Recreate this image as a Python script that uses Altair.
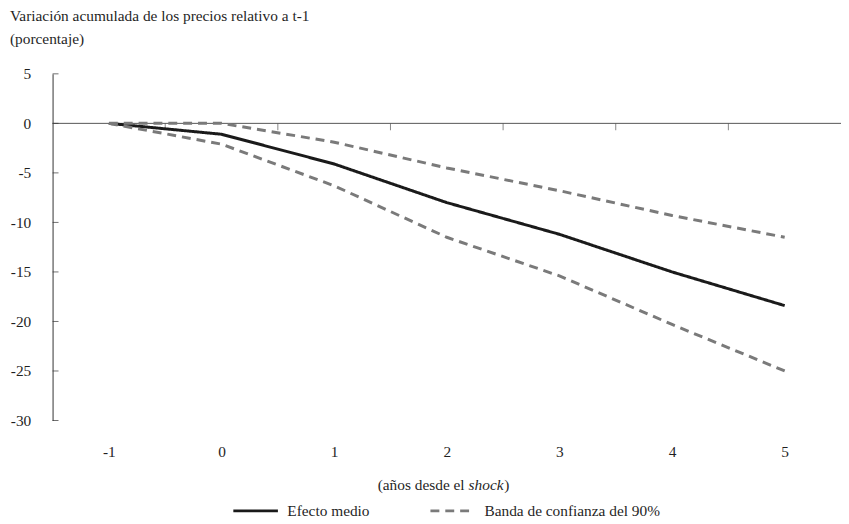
import altair as alt
import pandas as pd

# ---- data ----
anios = [-1, 0, 1, 2, 3, 4, 5]
efecto_medio = [0, -1.1, -4.1, -8.0, -11.2, -15.0, -18.4]
banda_superior = [0, 0, -1.9, -4.5, -6.8, -9.3, -11.5]
banda_inferior = [0, -2.1, -6.3, -11.5, -15.4, -20.3, -25.0]
y_ticks = [5, 0, -5, -10, -15, -20, -25, -30]
x_limites = [-0.5, 0.5, 1.5, 2.5, 3.5, 4.5]
serie_medio = "Efecto medio"
serie_banda = "Banda de confianza del 90%"
titulo = ["Variación acumulada de los precios relativo a t-1", "(porcentaje)"]
eje_x_partes = ["(años desde el", "shock", ")"]

rows = []
for a, m, s, i in zip(anios, efecto_medio, banda_superior, banda_inferior):
    rows.append({"anio": a, "valor": m, "serie": serie_medio, "linea": "medio"})
    rows.append({"anio": a, "valor": s, "serie": serie_banda, "linea": "superior"})
    rows.append({"anio": a, "valor": i, "serie": serie_banda, "linea": "inferior"})
df = pd.DataFrame(rows)

FONT = "Liberation Serif"
FS = 15.5
TXT = "#1f1f1f"
W, H = 796, 350

xscale = alt.Scale(domain=[-1.5, 5.5], nice=False, zero=False)
yscale = alt.Scale(domain=[-30, 5], nice=False, zero=False)

leg = alt.Legend(
    title=None, orient="none", legendX=181, legendY=417, direction="horizontal",
    symbolType="stroke", symbolSize=2025, symbolStrokeWidth=3,
    labelFont=FONT, labelFontSize=FS, labelColor=TXT, labelOffset=8, labelLimit=400,
    columnPadding=54,
)
color = alt.Color("serie:N", scale=alt.Scale(domain=[serie_medio, serie_banda],
                                             range=["#1a1a1a", "#7a7a7a"]), legend=leg)
dash = alt.StrokeDash("serie:N", scale=alt.Scale(domain=[serie_medio, serie_banda],
                                                 range=[[1, 0], [9, 6]]), legend=leg)

label_expr = "'' + datum.value"
xenc = alt.X("anio:Q", scale=xscale,
             axis=alt.Axis(values=anios, title=None, domain=False, ticks=False, grid=False,
                           labelPadding=24, labelExpr=label_expr, labelFont=FONT,
                           labelFontSize=FS, labelColor=TXT))
yenc = alt.Y("valor:Q", scale=yscale,
             axis=alt.Axis(values=y_ticks, title=None, grid=False, ticks=False,
                           domainColor="#333333", domainWidth=1, labelPadding=22,
                           labelExpr=label_expr, labelFont=FONT, labelFontSize=FS,
                           labelColor=TXT))

base = alt.Chart(df).mark_line(strokeWidth=3).encode(
    x=xenc, y=yenc, color=color, strokeDash=dash, detail="linea:N")
medio = base.transform_filter(alt.datum.linea == "medio")
banda = base.transform_filter(alt.datum.linea != "medio")

cero = alt.Chart(pd.DataFrame({"v": [0]})).mark_rule(color="#555555", strokeWidth=1).encode(
    y=alt.Y("v:Q", scale=yscale))

ticks_x = alt.Chart(pd.DataFrame({"lim": x_limites, "v": [0] * len(x_limites)})).mark_tick(
    orient="vertical", size=7, thickness=1, yOffset=3.5, color="#555555").encode(
    x=alt.X("lim:Q", scale=xscale), y=alt.Y("v:Q", scale=yscale))

ticks_y = alt.Chart(pd.DataFrame({"v": y_ticks})).mark_tick(
    orient="horizontal", size=6, thickness=1, xOffset=3, color="#333333").encode(
    y=alt.Y("v:Q", scale=yscale), x=alt.value(0))

t1 = alt.Chart(pd.DataFrame({"t": [eje_x_partes[0]]})).mark_text(
    font=FONT, fontSize=FS, color=TXT, align="right", baseline="middle").encode(
    text="t:N", x=alt.value(416), y=alt.value(H + 65))
t2 = alt.Chart(pd.DataFrame({"t": [eje_x_partes[1]]})).mark_text(
    font=FONT, fontSize=FS, fontStyle="italic", color=TXT, align="left", baseline="middle").encode(
    text="t:N", x=alt.value(420), y=alt.value(H + 65))
t3 = alt.Chart(pd.DataFrame({"t": [eje_x_partes[2]]})).mark_text(
    font=FONT, fontSize=FS, color=TXT, align="left", baseline="middle").encode(
    text="t:N", x=alt.value(456), y=alt.value(H + 65))

chart = alt.layer(cero, ticks_x, ticks_y, medio, banda, t1, t2, t3).properties(
    width=W, height=H,
    title=alt.Title(titulo, anchor="start", frame="group", dx=-43, offset=20,
                    font=FONT, fontSize=FS, fontWeight="normal", color=TXT, lineHeight=23),
    autosize=alt.AutoSizeParams(type="none"),
    padding={"left": 45, "top": 64, "right": 0, "bottom": 100},
).configure_view(stroke=None)

chart.save("out.html", embed_options={"renderer": "svg", "actions": False})
